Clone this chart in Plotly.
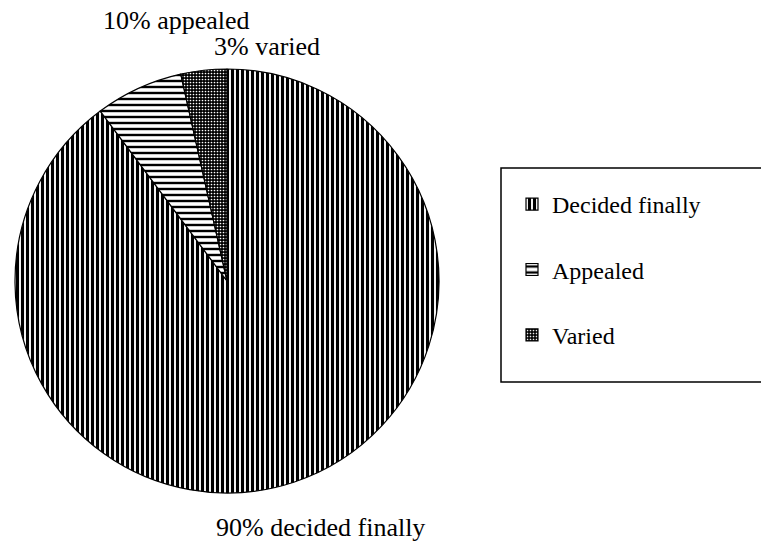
import plotly.graph_objects as go

# Data
categories = ["Decided finally", "Appealed", "Varied"]
values = [89.8, 6.7, 3.5]
label_pcts = [90, 10, 3]
label_texts = ["decided finally", "appealed", "varied"]

W, H = 761, 543

def px(x):
    return x / W

def py(y):
    return 1 - y / H

fig = go.Figure()

fig.add_trace(go.Pie(
    labels=[c + "<br> " for c in categories],
    values=values,
    sort=False,
    direction="clockwise",
    rotation=0,
    textinfo="none",
    hoverinfo="skip",
    domain=dict(x=[px(15), px(439)], y=[py(493), py(69)]),
    marker=dict(
        colors=["white", "white", "black"],
        line=dict(color="black", width=1.2),
        pattern=dict(
            shape=["|", "-", "."],
            fgcolor=["black", "black", "white"],
            bgcolor=["white", "white", "black"],
            size=[5, 6, 3],
            solidity=[0.62, 0.4, 0.25],
            fillmode="replace",
        ),
    ),
    showlegend=True,
))

font_family = "Liberation Serif, Times New Roman, serif"

annotations = [
    dict(text=f"{label_pcts[1]}% {label_texts[1]}", x=px(101), y=py(20)),
    dict(text=f"{label_pcts[2]}% {label_texts[2]}", x=px(212), y=py(46)),
    dict(text=f"{label_pcts[0]}% {label_texts[0]}", x=px(214), y=py(527)),
]
for a in annotations:
    a.update(xref="paper", yref="paper", xanchor="left", yanchor="middle",
             showarrow=False, font=dict(family=font_family, size=26, color="black"))

fig.update_layout(
    width=W, height=H,
    margin=dict(l=0, r=0, t=0, b=0),
    paper_bgcolor="white",
    plot_bgcolor="white",
    font=dict(family=font_family, color="black"),
    annotations=annotations,
    legend=dict(
        x=px(512), y=py(182), xanchor="left", yanchor="top",
        font=dict(family=font_family, size=24, color="black"),
        valign="top",
        bgcolor="rgba(0,0,0,0)",
        borderwidth=0,
        itemclick=False, itemdoubleclick=False,
    ),
    shapes=[dict(
        type="rect", xref="paper", yref="paper",
        x0=px(501), x1=px(770), y0=py(382), y1=py(168),
        line=dict(color="black", width=1.5), fillcolor="rgba(0,0,0,0)",
    )],
)

fig.write_html("out.html", config={"displayModeBar": False},
               post_script="document.body.style.margin='0px';")
